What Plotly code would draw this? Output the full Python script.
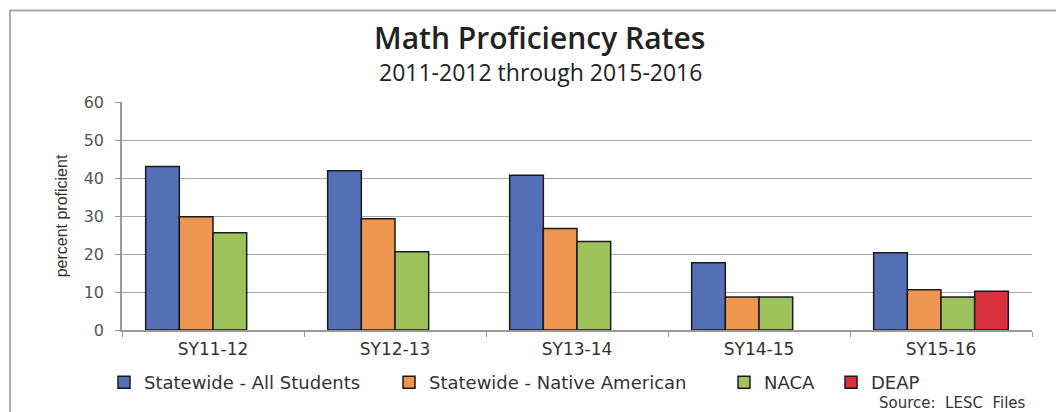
import plotly.graph_objects as go

categories = ["SY11-12", "SY12-13", "SY13-14", "SY14-15", "SY15-16"]
all_students = [43.0, 41.9, 40.7, 17.7, 20.3]
native_american = [29.8, 29.3, 26.7, 8.7, 10.6]
naca = [25.6, 20.6, 23.3, 8.7, 8.7]
deap = [None, None, None, None, 10.2]

series_names = ["Statewide - All Students", "Statewide - Native American", "NACA", "DEAP"]
colors = ["#5570B6", "#EE9550", "#9DC25C", "#D8313C"]

W, H = 1056, 412
L, R, T, B = 122, 24, 102, 81
pw, ph = W - L - R, H - T - B
def px(x): return (x - L) / pw
def py(y): return (H - B - y) / ph

legend_ids = ["legend", "legend2", "legend3", "legend4"]
legend_px = [104, 389, 724, 831]

fig = go.Figure()
for name, vals, col, lid in zip(series_names, [all_students, native_american, naca, deap], colors, legend_ids):
    fig.add_trace(go.Bar(
        x=categories, y=vals, name=name, legend=lid,
        marker=dict(color=col, line=dict(color="#1a1a1a", width=1.5)),
    ))

legend_common = dict(orientation="h", xanchor="left", y=-0.225, yanchor="middle",
                     font=dict(family="DejaVu Sans", size=18, color="#333333"),
                     itemwidth=30, bgcolor="rgba(0,0,0,0)")
legend_layout = {lid: dict(legend_common, x=px(lx)) for lid, lx in zip(legend_ids, legend_px)}

fig.update_layout(
    width=W, height=H,
    margin=dict(l=L, r=R, t=T, b=B),
    paper_bgcolor="white", plot_bgcolor="white",
    barmode="group", bargap=0.26, bargroupgap=0,
    font=dict(family="DejaVu Sans", size=15, color="#333333"),
    showlegend=True,
    xaxis=dict(showline=True, linecolor="#999999", linewidth=1.5,
               tickson="boundaries", ticks="outside", ticklen=5, tickcolor="#999999",
               showgrid=False, ticklabelstandoff=3,
               tickfont=dict(family="DejaVu Sans", size=17, color="#333333")),
    yaxis=dict(range=[0, 60], dtick=10, showline=True, linecolor="#999999", linewidth=1.5,
               ticks="outside", ticklen=5, tickcolor="#999999", ticklabelstandoff=8,
               showgrid=True, gridcolor="#aaaaaa", gridwidth=1,
               tickfont=dict(family="DejaVu Sans", size=16, color="#555555"),
               title=dict(text="percent proficient", standoff=12,
                          font=dict(family="Liberation Sans", size=16, color="#333333"))),
    **legend_layout,
)

# frame
fig.add_shape(type="rect", xref="paper", yref="paper",
              x0=px(10), x1=px(1070), y0=py(10), y1=py(430),
              line=dict(color="#aaaaaa", width=2), layer="below")

fig.add_annotation(text="Math Proficiency Rates", xref="paper", yref="paper",
                   x=px(539), y=py(37), xanchor="center", yanchor="middle", showarrow=False,
                   font=dict(family="Open Sans", size=30, weight=600, color="#222222"))
fig.add_annotation(text="2011-2012 through 2015-2016", xref="paper", yref="paper",
                   x=px(540), y=py(72), xanchor="center", yanchor="middle", showarrow=False,
                   font=dict(family="Open Sans", size=23, color="#222222"))
fig.add_annotation(text="Source:  LESC  Files", xref="paper", yref="paper",
                   x=px(1028), y=py(404), xanchor="right", yanchor="middle", showarrow=False,
                   font=dict(family="DejaVu Sans", size=15, color="#333333"))

fig.write_html("out.html")
